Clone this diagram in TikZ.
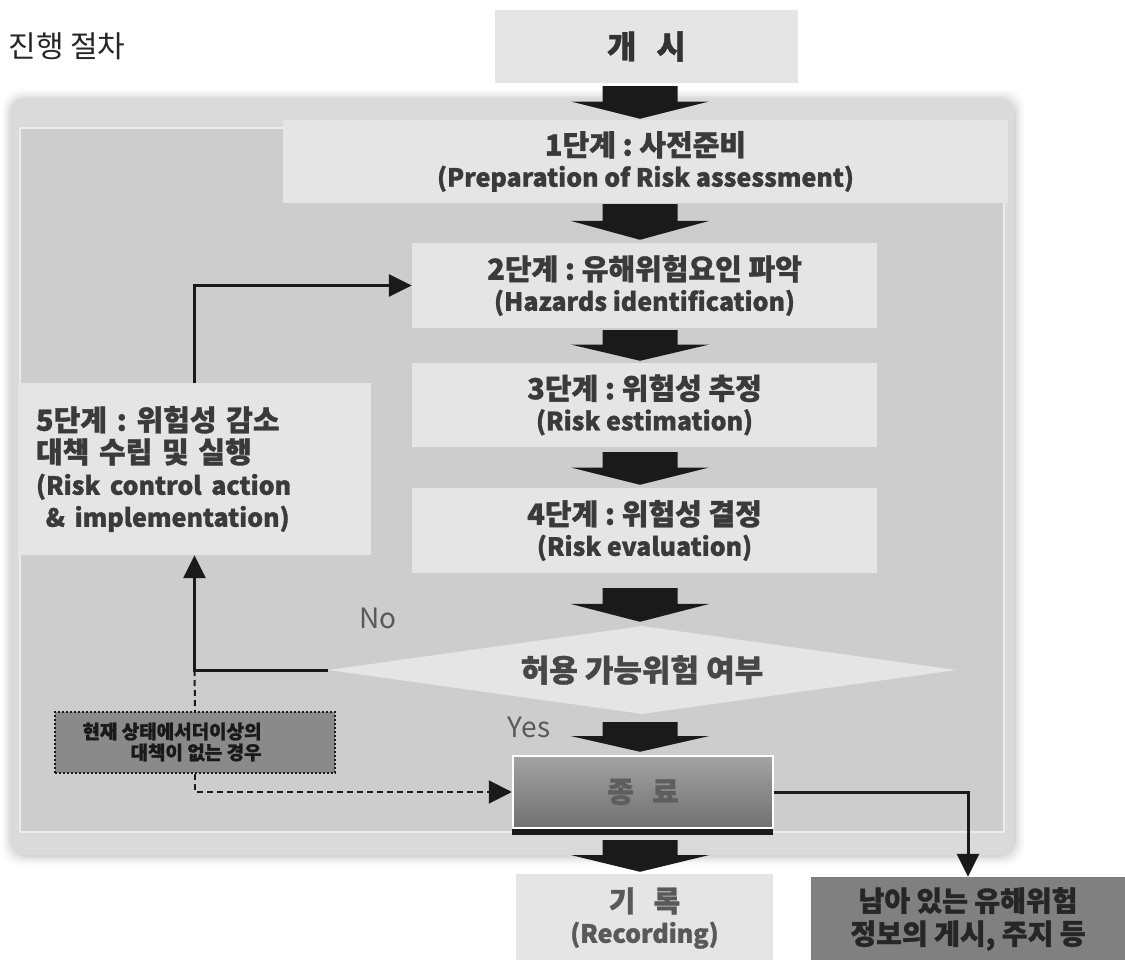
\documentclass[tikz,border=0pt]{standalone}
\usepackage{fontspec}
\newfontfamily\kr{Noto Sans CJK KR}[BoldFeatures={FakeBold=1.2}]
\usetikzlibrary{shapes.geometric,arrows.meta,calc}
\frenchspacing
\definecolor{boxfill}{HTML}{E5E5E5}
\definecolor{panelin}{HTML}{CDCDCD}
\definecolor{panelrim}{HTML}{DADADA}
\definecolor{txt}{HTML}{3A3A3A}
\definecolor{blk}{HTML}{1A1A1A}
\definecolor{remfill}{HTML}{808080}
\definecolor{notefill}{HTML}{8A8A8A}
\newcommand\entext{\fontsize{25}{31}\selectfont}
\newcommand\blockarrow[4]{%
  \path (ax |- #1.south) ++(0,#3) coordinate (bt);
  \path (ax |- #2.north) ++(0,-#4) coordinate (bb);
  \coordinate (bm) at ($(bt)!0.47!(bb)$);
  \fill[blk] ($(bt)+(-37.5,0)$) -- ($(bt)+(37.5,0)$) -- ($(bm)+(37.5,0)$) -- ($(bm)+(69,0)$)
     -- (bb) -- ($(bm)+(-69,0)$) -- ($(bm)+(-37.5,0)$) -- cycle;
}
\tikzset{
  base/.style={inner sep=0pt, align=center, text=txt, font=\kr\bfseries\fontsize{29}{31}\selectfont},
  stepbox/.style={base, fill=boxfill},
  conn/.style={line width=3pt, draw=blk, -{Triangle[length=23pt,width=22pt]}},
  dashconn/.style={line width=2pt, draw=blk, dash pattern=on 6pt off 4pt},
  lbl/.style={inner sep=0pt, text=black!65, font=\kr\fontsize{28}{30}\selectfont},
}
\begin{document}
\begin{tikzpicture}[x=1pt,y=-1pt]
\useasboundingbox (0,0) rectangle (1125,960);
\fill[white] (0,0) rectangle (1125,960);
\coordinate (ax) at (640,0);

% title
\node[inner sep=0pt, text=black!85, font=\kr\fontsize{30}{32}\selectfont] (title) at (67,46) {진행 절차};

% panel with soft shadow
\foreach \i/\o in {10/0.02,8/0.025,6/0.03,4/0.04,2/0.05}
  \fill[black, opacity=\o, rounded corners=18] ({10-\i+2},{98-\i+2}) rectangle ({1014+\i},{855+\i});
\fill[panelrim, rounded corners=14] (10,98) rectangle (1014,855);
\fill[panelin] (20,128) rectangle (1004,832);
\draw[white!85!gray, line width=1.5pt] (20,128) rectangle (1004,832);

% nodes
\node[stepbox, minimum width=303pt, minimum height=73pt, font=\kr\bfseries\fontsize{32}{33}\selectfont, text=black!80] (start) at (646.5,46.5) {개\hspace{20pt}시};
\node[stepbox, minimum width=725pt, minimum height=83pt] (s1) at (645.5,161.5)
  {1단계 : 사전준비\\{\entext (Preparation of Risk assessment)}};
\node[stepbox, minimum width=465pt, minimum height=85pt] (s2) at (644.5,285.5)
  {2단계 : 유해위험요인 파악\\{\entext (Hazards identification)}};
\node[stepbox, minimum width=465pt, minimum height=84pt] (s3) at (644.5,405)
  {3단계 : 위험성 추정\\{\entext (Risk estimation)}};
\node[stepbox, minimum width=465pt, minimum height=85pt] (s4) at (644.5,530.5)
  {4단계 : 위험성 결정\\{\entext (Risk evaluation)}};
\node[stepbox, minimum width=353pt, minimum height=172pt, text width=317pt, align=left,
  font=\kr\bfseries\fontsize{29}{32}\selectfont, inner xsep=18pt] (s5) at (194.5,469)
  {5단계 : 위험성 감소\\대책 수립 및 실행\\{\entext (Risk control action}\\{\entext\ \& implementation)}};
\node[base, diamond, shape aspect=7, fill=boxfill, minimum width=628pt, minimum height=88pt,
  text=black!72, font=\kr\bfseries\fontsize{31}{33}\selectfont] (dia) at (642,670) {허용 가능위험 여부};
\node[base, minimum width=260pt, minimum height=72pt, draw=white, line width=2.5pt,
  top color=black!36, bottom color=black!56, text=black!63] (end) at (643,792) {종\hspace{18pt}료};
\node[fill=blk, inner sep=0pt, minimum width=261pt, minimum height=6pt] (bar) at (642.5,832) {};
\node[stepbox, minimum width=257pt, minimum height=88pt, text=black!65] (rec) at (644.5,918)
  {기\hspace{18pt}록\\{\entext (Recording)}};
\node[base, fill=remfill, minimum width=314pt, minimum height=84pt, text=black!85,
  font=\kr\bfseries\fontsize{28}{33}\selectfont] (rem) at (968,919)
  {남아 있는 유해위험\\정보의 게시, 주지 등};
\node[fill=notefill, draw=blk, line width=1.8pt, dash pattern=on 2pt off 2pt,
  minimum width=280pt, minimum height=61pt, inner sep=0pt] (note) at (195,742.5) {};
\node[base, text=black!90, align=right, font=\kr\bfseries\fontsize{19}{21}\selectfont]
  (notetext) at (172,742) {현재 상태에서더이상의\\대책이 없는 경우};

% labels
\node[lbl] (no) at (378,618) {No};
\node[lbl] (yes) at (529,727) {Yes};

% block arrows
\blockarrow{start}{s1}{3}{1}
\blockarrow{s1}{s2}{1}{3}
\blockarrow{s2}{s3}{2}{2}
\blockarrow{s3}{s4}{5}{3}
\blockarrow{s4}{dia}{15}{4}
\blockarrow{dia}{end}{8}{3}
\blockarrow{bar}{rec}{5}{2}

% connectors
\coordinate (fbc) at (s5.south |- dia.west);
\draw[conn] (dia.west) -| (s5.south);
\draw[conn] (s5.north) |- (s2.west);
\draw[dashconn] (fbc) -- (note.north);
\draw[dashconn, -{Triangle[length=23pt,width=23pt]}] (note.south) |- (end.west);
\draw[conn] (end.east) -| (rem.north);
\end{tikzpicture}
\end{document}
